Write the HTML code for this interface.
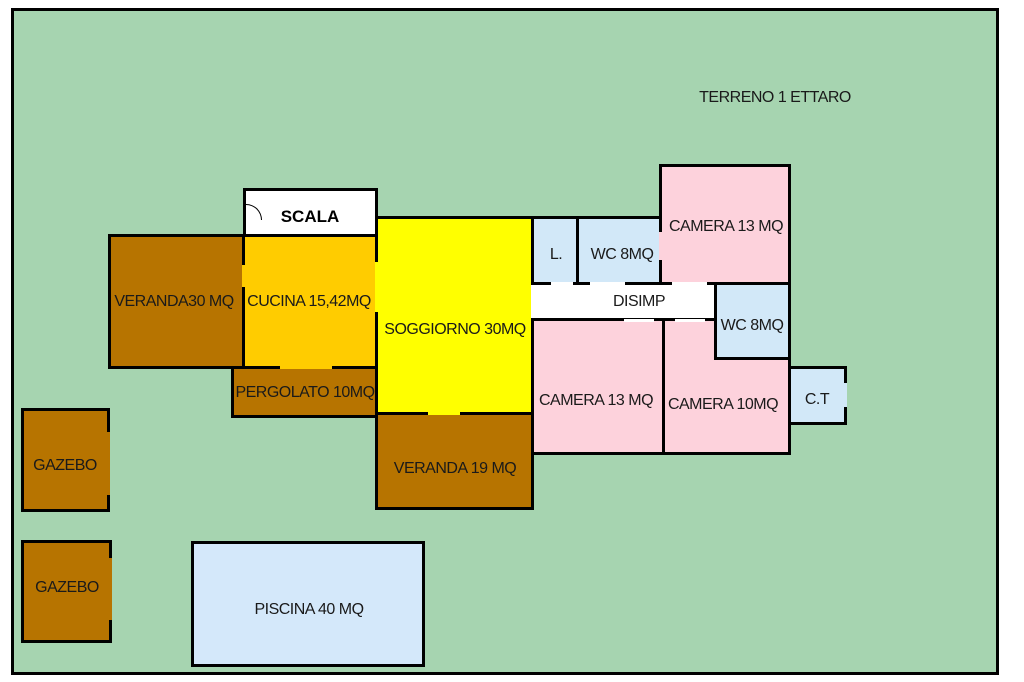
<!DOCTYPE html>
<html><head><meta charset="utf-8"><style>
body{margin:0;width:1024px;height:682px;background:#fff;position:relative;overflow:hidden;font-family:"Liberation Sans",sans-serif;}
.b{position:absolute;box-sizing:border-box;border:3px solid #000;}
.t{position:absolute;font-size:16px;color:#1a1a1a;white-space:nowrap;transform:translate(-50%,calc(-50% + 2px));letter-spacing:-0.5px}
.g{position:absolute;}
</style></head><body>
<div class="b" style="left:11px;top:8px;width:988px;height:667px;background:#a6d4b0"></div>

<div class="b" style="left:243px;top:188px;width:135px;height:50px;background:#fff"></div>
<div class="g" style="left:246px;top:204px;width:16px;height:16px;border:1px solid #000;border-left:none;border-bottom:none;border-radius:0 16px 0 0;box-sizing:border-box"></div>
<div class="b" style="left:108px;top:234px;width:138px;height:135px;background:#b77400"></div>
<div class="b" style="left:242px;top:234px;width:136px;height:135px;background:#ffcc00"></div>
<div class="b" style="left:231px;top:366px;width:147px;height:52px;background:#b77400"></div>
<div class="b" style="left:375px;top:216px;width:159px;height:199px;background:#ffff00"></div>
<div class="b" style="left:375px;top:412px;width:159px;height:98px;background:#b77400"></div>
<div class="b" style="left:531px;top:216px;width:49px;height:69px;background:#d2e8f8"></div>
<div class="b" style="left:576px;top:216px;width:87px;height:69px;background:#d2e8f8"></div>
<div class="b" style="left:659px;top:164px;width:132px;height:121px;background:#fdd2dc"></div>
<div class="b" style="left:531px;top:282px;width:188px;height:40px;background:#fff;border-width:3px 0 3px 0"></div>
<div class="b" style="left:531px;top:318px;width:134px;height:137px;background:#fdd2dc"></div>
<div class="b" style="left:662px;top:318px;width:129px;height:137px;background:#fdd2dc"></div>
<div class="b" style="left:714px;top:282px;width:77px;height:78px;background:#d2e8f8"></div>
<div class="b" style="left:788px;top:366px;width:59px;height:59px;background:#d2e8f8"></div>
<!-- door gaps -->
<div class="g" style="left:242px;top:265px;width:3px;height:22px;background:#ffcc00"></div>
<div class="g" style="left:375px;top:262px;width:3px;height:50px;background:#ffff00"></div>
<div class="g" style="left:280px;top:366px;width:52px;height:3px;background:#ffcc00"></div>
<div class="g" style="left:428px;top:412px;width:32px;height:3px;background:#ffff00"></div>
<div class="g" style="left:531px;top:285px;width:3px;height:33px;background:#fff"></div>
<div class="g" style="left:551px;top:282px;width:22px;height:3px;background:#fff"></div>
<div class="g" style="left:590px;top:282px;width:35px;height:3px;background:#fff"></div>
<div class="g" style="left:672px;top:282px;width:35px;height:3px;background:#fff"></div>
<div class="g" style="left:624px;top:319px;width:30px;height:3px;background:#fff"></div>
<div class="g" style="left:675px;top:319px;width:30px;height:3px;background:#fff"></div>
<div class="g" style="left:659px;top:232px;width:3px;height:28px;background:#fdd2dc"></div>
<div class="g" style="left:844px;top:383px;width:3px;height:24px;background:#d2e8f8"></div>

<div class="b" style="left:21px;top:408px;width:89px;height:104px;background:#b77400"></div>
<div class="g" style="left:107px;top:432px;width:3px;height:63px;background:#b77400"></div>
<div class="b" style="left:21px;top:540px;width:91px;height:103px;background:#b77400"></div>
<div class="g" style="left:109px;top:558px;width:3px;height:62px;background:#b77400"></div>
<div class="b" style="left:191px;top:541px;width:234px;height:126px;background:#d4e8fa"></div>

<div class="t" style="left:775px;top:96px">TERRENO 1 ETTARO</div>
<div class="t" style="left:310px;top:215px;font-size:17px;color:#000;letter-spacing:0;font-weight:bold">SCALA</div>
<div class="t" style="left:174px;top:300px">VERANDA30 MQ</div>
<div class="t" style="left:309px;top:300px">CUCINA 15,42MQ</div>
<div class="t" style="left:305px;top:391px">PERGOLATO 10MQ</div>
<div class="t" style="left:455px;top:328px">SOGGIORNO 30MQ</div>
<div class="t" style="left:455px;top:467px">VERANDA 19 MQ</div>
<div class="t" style="left:556px;top:253px">L.</div>
<div class="t" style="left:622px;top:253px">WC 8MQ</div>
<div class="t" style="left:726px;top:225px">CAMERA 13 MQ</div>
<div class="t" style="left:639px;top:300px">DISIMP</div>
<div class="t" style="left:752px;top:324px">WC 8MQ</div>
<div class="t" style="left:596px;top:399px">CAMERA 13 MQ</div>
<div class="t" style="left:723px;top:403px">CAMERA 10MQ</div>
<div class="t" style="left:817px;top:398px">C.T</div>
<div class="t" style="left:65px;top:464px">GAZEBO</div>
<div class="t" style="left:67px;top:586px">GAZEBO</div>
<div class="t" style="left:309px;top:608px">PISCINA 40 MQ</div>
</body></html>
